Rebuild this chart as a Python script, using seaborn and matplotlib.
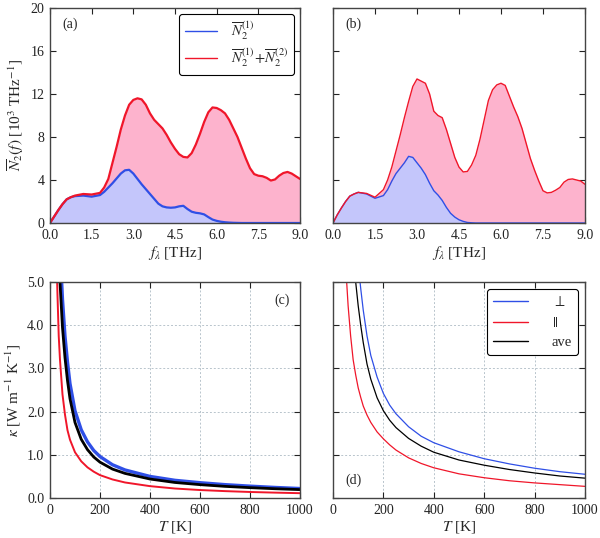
import numpy as np
import pandas as pd
import seaborn as sns
import matplotlib.pyplot as plt

# frequency grid (THz) and spectral densities (a) and (b)
freq = [0.0, 0.15, 0.3, 0.45, 0.6, 0.75, 0.9, 1.2, 1.5,
        1.8, 1.95, 2.1, 2.25, 2.4, 2.55, 2.7, 2.85, 3.0, 3.15, 3.3, 3.45, 3.6, 3.75,
        3.9, 4.05, 4.2, 4.35, 4.5, 4.65, 4.8, 4.95, 5.1, 5.25, 5.4, 5.55, 5.7, 5.85,
        6.0, 6.15, 6.3, 6.45, 6.6, 6.75, 6.9, 7.05, 7.2, 7.35, 7.5, 7.65, 7.8, 7.95,
        8.1, 8.25, 8.4, 8.55, 8.7, 8.85, 9.0]

n1_a = [0.0, 0.6, 1.2, 1.75, 2.2, 2.4, 2.5, 2.55, 2.45,
        2.6, 2.9, 3.3, 3.7, 4.15, 4.6, 4.9, 4.95, 4.6, 4.1, 3.6, 3.15, 2.7, 2.25,
        1.8, 1.55, 1.45, 1.42, 1.45, 1.55, 1.6, 1.3, 1.05, 0.95, 0.9, 0.8, 0.55, 0.32,
        0.2, 0.12, 0.07, 0.04, 0.02, 0.01, 0.0, 0.0, 0.0, 0.0, 0.0, 0.0, 0.0, 0.0,
        0.0, 0.0, 0.0, 0.0, 0.0, 0.0, 0.0]
n12_a = [0.0, 0.6, 1.2, 1.75, 2.2, 2.4, 2.55, 2.7, 2.65,
         2.8, 3.3, 4.1, 5.6, 7.1, 8.7, 10.0, 11.0, 11.45, 11.6, 11.5, 11.0, 10.2, 9.6,
         9.2, 8.8, 8.2, 7.5, 6.9, 6.4, 6.15, 6.1, 6.5, 7.3, 8.3, 9.4, 10.3, 10.75,
         10.7, 10.5, 10.2, 9.6, 8.8, 8.0, 7.0, 6.0, 5.1, 4.55, 4.4, 4.35, 4.2, 3.95,
         4.05, 4.4, 4.65, 4.75, 4.6, 4.35, 4.1]

n1_b = [0.0, 0.75, 1.4, 2.0, 2.5, 2.7, 2.85, 2.7, 2.3,
        2.55, 3.1, 3.9, 4.6, 5.1, 5.6, 6.2, 6.1, 5.6, 5.1, 4.5, 3.7, 3.0, 2.6,
        2.1, 1.45, 0.9, 0.55, 0.3, 0.15, 0.05, 0.02, 0.0, 0.0, 0.0, 0.0, 0.0, 0.0,
        0.0, 0.0, 0.0, 0.0, 0.0, 0.0, 0.0, 0.0, 0.0, 0.0, 0.0, 0.0, 0.0, 0.0,
        0.0, 0.0, 0.0, 0.0, 0.0, 0.0, 0.0]
n12_b = [0.0, 0.75, 1.4, 2.0, 2.5, 2.7, 2.85, 2.75, 2.4,
         3.1, 4.0, 5.2, 6.7, 8.2, 9.8, 11.3, 12.7, 13.4, 13.2, 13.0, 12.0, 10.4, 10.0,
         9.8, 8.7, 7.4, 6.1, 5.2, 4.75, 4.8, 5.4, 6.3, 7.8, 9.6, 11.4, 12.4, 12.85,
         13.0, 12.8, 11.8, 10.8, 9.9, 8.8, 7.4, 6.0, 4.9, 3.9, 3.0, 2.8, 2.85, 3.05,
         3.3, 3.8, 4.05, 4.1, 4.0, 3.9, 3.6]

# temperature grids (K) and conductivities for panels (c) and (d)
temp_c = [20, 25, 30, 35, 40, 50, 60, 70, 80, 100, 125, 150, 175, 200, 250, 300,
          400, 500, 600, 700, 800, 900, 1000]
kperp_c = [11.5, 9.3, 7.7, 6.6, 5.8, 4.6, 3.75, 3.15, 2.65, 2.02, 1.58, 1.3, 1.1, 0.96, 0.77, 0.65,
           0.5, 0.41, 0.355, 0.31, 0.275, 0.245, 0.22]
kpar_c = [7.5, 5.8, 4.7, 3.75, 3.2, 2.4, 1.93, 1.57, 1.35, 1.06, 0.85, 0.71, 0.61, 0.53, 0.43, 0.36,
          0.275, 0.22, 0.185, 0.16, 0.14, 0.125, 0.112]
kave_c = [10.0, 8.0, 6.7, 5.7, 5.0, 3.95, 3.25, 2.72, 2.3, 1.75, 1.36, 1.12, 0.95, 0.83, 0.67, 0.57,
          0.44, 0.36, 0.31, 0.27, 0.24, 0.215, 0.195]

temp_d = [40, 50, 60, 70, 80, 90, 100, 110, 120, 135, 150, 175, 200, 225, 250, 300,
          350, 400, 500, 600, 700, 800, 900, 1000]
kperp_d = [15.0, 12.0, 10.0, 8.5, 7.1, 6.1, 5.4, 4.85, 4.35, 3.75, 3.3, 2.8, 2.42, 2.15, 1.95, 1.65,
           1.43, 1.28, 1.07, 0.91, 0.79, 0.69, 0.61, 0.55]
kpar_d = [6.8, 5.4, 4.45, 3.75, 3.2, 2.85, 2.55, 2.33, 2.13, 1.92, 1.75, 1.53, 1.37, 1.23, 1.11, 0.93,
          0.8, 0.7, 0.56, 0.47, 0.4, 0.35, 0.31, 0.27]
kave_d = [12.0, 9.5, 7.8, 6.6, 5.7, 5.0, 4.45, 4.0, 3.6, 3.1, 2.75, 2.32, 2.02, 1.8, 1.63, 1.38,
          1.2, 1.06, 0.88, 0.76, 0.66, 0.58, 0.51, 0.46]

blue = "#2f4fe6"
red = "#f0162a"
blue_fill = "#c4c6fb"
pink_fill = "#fdb3cd"

sns.set_theme(style="ticks")
plt.rcParams["font.family"] = ["Liberation Serif", "DejaVu Serif"]
plt.rcParams["mathtext.fontset"] = "stix"
plt.rcParams["axes.edgecolor"] = "#444444"
plt.rcParams["axes.linewidth"] = 1.0

fig = plt.figure(figsize=(6.0, 5.38), dpi=100)
ax_a = fig.add_axes([0.0833, 0.5855, 0.4167, 0.3996])
ax_b = fig.add_axes([0.555, 0.5855, 0.42, 0.3996])
ax_c = fig.add_axes([0.0833, 0.0743, 0.4167, 0.4015])
ax_d = fig.add_axes([0.555, 0.0743, 0.42, 0.4015])

FS = 10


def style_axes(ax):
    ax.tick_params(direction="in", top=True, right=True, length=4, width=0.8,
                   labelsize=FS, colors="#222222", pad=4)
    for s in ax.spines.values():
        s.set_visible(True)


def boxed_legend(ax, fs, **kw):
    leg = ax.legend(loc="upper right", fontsize=fs, frameon=True, fancybox=True, **kw)
    leg.get_frame().set_edgecolor("black")
    leg.get_frame().set_linewidth(0.8)
    leg.get_frame().set_alpha(1)
    for h in leg.get_lines():
        h.set_linewidth(1.0)
    return leg


# top row: spectral densities
for ax, n1, n12, lw in [(ax_a, n1_a, n12_a, 1.6), (ax_b, n1_b, n12_b, 1.0)]:
    df = pd.DataFrame({"f": freq, "n1": n1, "n12": n12})
    ax.fill_between(df["f"], 0, df["n12"], color=pink_fill, lw=0)
    ax.fill_between(df["f"], 0, df["n1"], color=blue_fill, lw=0)
    sns.lineplot(data=df, x="f", y="n1", ax=ax, color=blue, lw=lw,
                 label=r"$\overline{N}_2^{(1)}$")
    sns.lineplot(data=df, x="f", y="n12", ax=ax, color=red, lw=lw,
                 label=r"$\overline{N}_2^{(1)}\!+\!\overline{N}_2^{(2)}$")
    ax.set_xlim(0, 9)
    ax.set_ylim(0, 20)
    ax.set_xticks([0, 1.5, 3.0, 4.5, 6.0, 7.5, 9.0])
    ax.set_xticklabels(["0.0", "1.5", "3.0", "4.5", "6.0", "7.5", "9.0"])
    ax.set_yticks([0, 4, 8, 12, 16, 20])
    ax.set_xlabel(r"$f_\lambda$ [THz]", fontsize=FS + 1, labelpad=2)
    style_axes(ax)

ax_a.set_ylabel(r"$\overline{N}_2(f)$ [10$^3$ THz$^{-1}$]", fontsize=FS + 1, labelpad=3)
ax_b.set_ylabel("")
ax_b.set_yticklabels([])
boxed_legend(ax_a, FS + 0.5, handlelength=2.2, borderpad=0.4, labelspacing=0.3,
             handletextpad=1.0, borderaxespad=0.4)
ax_b.get_legend().remove()

ax_a.text(0.05, 0.925, "(a)", transform=ax_a.transAxes, fontsize=FS, va="center")
ax_b.text(0.048, 0.925, "(b)", transform=ax_b.transAxes, fontsize=FS, va="center")

# bottom row: thermal conductivity
for ax, T, kp, kl, ka, lws in [(ax_c, temp_c, kperp_c, kpar_c, kave_c, (2.4, 1.4, 2.0)),
                               (ax_d, temp_d, kperp_d, kpar_d, kave_d, (0.9, 0.9, 0.9))]:
    df = pd.DataFrame({"T": T, "perp": kp, "par": kl, "ave": ka})
    sns.lineplot(data=df, x="T", y="perp", ax=ax, color=blue, lw=lws[0], label=r"$\perp$")
    sns.lineplot(data=df, x="T", y="par", ax=ax, color=red, lw=lws[1], label=r"$||$")
    sns.lineplot(data=df, x="T", y="ave", ax=ax, color="black", lw=lws[2], label="ave")
    ax.set_xlim(0, 1000)
    ax.set_ylim(0, 5)
    ax.set_xticks([0, 200, 400, 600, 800, 1000])
    ax.set_yticks([0, 1, 2, 3, 4, 5])
    ax.grid(True, ls=(0, (2, 2)), color="#b8c4cc", lw=0.7)
    ax.set_xlabel(r"$T$ [K]", fontsize=FS + 1, labelpad=2)
    style_axes(ax)

ax_c.set_yticklabels(["0.0", "1.0", "2.0", "3.0", "4.0", "5.0"])
ax_c.set_ylabel(r"$\kappa$ [W m$^{-1}$ K$^{-1}$]", fontsize=FS + 1, labelpad=3)
ax_d.set_ylabel("")
ax_d.set_yticklabels([])
ax_c.get_legend().remove()
boxed_legend(ax_d, FS + 0.5, handlelength=2.4, borderpad=0.4, labelspacing=0.45,
             handletextpad=1.6, borderaxespad=0.5)

ax_c.text(0.96, 0.917, "(c)", transform=ax_c.transAxes, fontsize=FS, va="center", ha="right")
ax_d.text(0.048, 0.08, "(d)", transform=ax_d.transAxes, fontsize=FS, va="center")

fig.savefig("out.png", dpi=100)
